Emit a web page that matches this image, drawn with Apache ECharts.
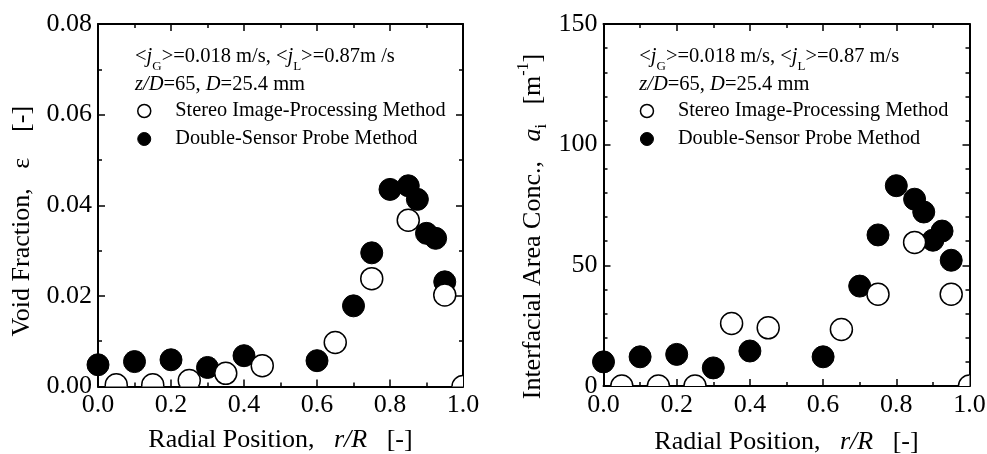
<!DOCTYPE html>
<html>
<head>
<meta charset="utf-8">
<script src="https://cdn.jsdelivr.net/npm/echarts@6/dist/echarts.min.js"></script>
<style>
  html, body { margin: 0; padding: 0; background: #fff; }
  #chart { width: 987px; height: 454px; }
</style>
</head>
<body>
<div id="chart"></div>
<script>
// Radial measurement positions r/R
const radialProbe  = [0.0, 0.1, 0.2, 0.3, 0.4, 0.6, 0.7, 0.75, 0.8, 0.85, 0.875, 0.9, 0.925, 0.95];
const radialStereo = [0.05, 0.15, 0.25, 0.35, 0.45, 0.65, 0.75, 0.85, 0.95, 1.0];

// Void fraction, epsilon [-]
const voidProbe  = [0.0048, 0.0055, 0.0059, 0.0042, 0.0068, 0.0057, 0.0178, 0.0295, 0.0435, 0.0443, 0.0413, 0.0338, 0.0327, 0.0231];
const voidStereo = [0.0004, 0.0004, 0.0013, 0.0029, 0.0046, 0.0097, 0.0238, 0.0367, 0.0202, 0.0];

// Interfacial area concentration, a_i [1/m]
const areaProbe  = [10.0, 12.1, 13.1, 7.5, 14.5, 12.1, 41.4, 62.6, 83.0, 77.4, 72.1, 60.4, 64.2, 52.1];
const areaStereo = [0.0, 0.0, 0.0, 25.9, 24.1, 23.4, 38.0, 59.5, 38.0, 0.0];

// Axis scales
const radialRange = { min: 0, max: 1, interval: 0.2 };
const voidRange   = { min: 0, max: 0.08, interval: 0.02 };
const areaRange   = { min: 0, max: 150, interval: 50 };

const STEREO = 'Stereo Image-Processing Method';
const PROBE  = 'Double-Sensor Probe Method';

const FONT = "'Liberation Serif', 'Times New Roman', serif";
const BLACK = '#000';
const TICK_FONT = 26;

function zip(xs, ys) { return xs.map((x, i) => [x, ys[i]]); }

// Circle markers, clipped at the right and bottom frame edges
function circleRenderer(filled) {
  return function (params, api) {
    const p = api.coord([api.value(0), api.value(1)]);
    const cs = params.coordSys;
    return {
      type: 'circle',
      shape: { cx: p[0], cy: p[1], r: 11 },
      style: filled
        ? { fill: BLACK, stroke: BLACK, lineWidth: 1 }
        : { fill: '#fff', stroke: BLACK, lineWidth: 1.5 },
      clipPath: {
        type: 'rect',
        shape: { x: cs.x - 40, y: cs.y - 40, width: cs.width + 40, height: cs.height + 40 }
      }
    };
  };
}

function sharedAxis(extra) {
  return Object.assign({
    type: 'value',
    axisLine: { show: true, onZero: false, lineStyle: { color: BLACK, width: 2 } },
    axisTick: { show: true, inside: true, length: 7, lineStyle: { color: BLACK, width: 1.5 } },
    minorTick: { show: true, splitNumber: 2, length: 4, lineStyle: { color: BLACK, width: 1.5 } },
    splitLine: { show: false },
    axisLabel: { show: true, color: BLACK, fontFamily: FONT, fontSize: TICK_FONT, margin: 6 }
  }, extra);
}

const nameRich = {
  it:  { fontFamily: FONT, fontSize: 26, fontStyle: 'italic', color: BLACK },
  sub: { fontFamily: FONT, fontSize: 16, color: BLACK, verticalAlign: 'bottom', lineHeight: 16 },
  sup: { fontFamily: FONT, fontSize: 16, color: BLACK, verticalAlign: 'top', lineHeight: 16 }
};

function nameStyle(padding) {
  return { color: BLACK, fontFamily: FONT, fontSize: 26, lineHeight: 34, rich: nameRich, padding: padding };
}

function radialAxis(gridIndex, gap) {
  return [
    sharedAxis(Object.assign({
      gridIndex, position: 'bottom',
      name: 'Radial Position,   {it|r/R}   [-]',
      nameLocation: 'middle', nameGap: gap, nameTextStyle: nameStyle([0, 0, 0, 0]),
      axisLabel: { show: true, color: BLACK, fontFamily: FONT, fontSize: TICK_FONT, margin: 6,
                   formatter: v => v.toFixed(1) }
    }, radialRange)),
    sharedAxis(Object.assign({ gridIndex, position: 'top', axisLabel: { show: false } }, radialRange))
  ];
}

const annotRich = {
  i:   { fontFamily: FONT, fontSize: 20.5, fontStyle: 'italic', fill: BLACK },
  sub: { fontFamily: FONT, fontSize: 13, fill: BLACK, verticalAlign: 'bottom', lineHeight: 13 }
};

function annotation(x, y, text) {
  return {
    type: 'text', x: x, y: y, z: 10,
    style: {
      text: text, fontFamily: FONT, fontSize: 20.5, fill: BLACK,
      lineHeight: 32, verticalAlign: 'middle', align: 'left', rich: annotRich
    }
  };
}

function legendFor(left, top) {
  return {
    left: left, top: top, orient: 'vertical', selectedMode: false,
    itemWidth: 52, itemHeight: 13, itemGap: 8,
    textStyle: { fontFamily: FONT, fontSize: 20.3, color: BLACK, lineHeight: 20 },
    data: [
      { name: STEREO, icon: 'circle', itemStyle: { color: '#fff', borderColor: BLACK, borderWidth: 1.5 } },
      { name: PROBE,  icon: 'circle', itemStyle: { color: BLACK, borderColor: BLACK, borderWidth: 1 } }
    ]
  };
}

const option = {
  animation: false,
  backgroundColor: '#fff',
  grid: [
    { left: 98,  top: 24, width: 365, height: 362.5, containLabel: false, outerBoundsMode: 'none' },
    { left: 603.5, top: 24, width: 366, height: 362, containLabel: false, outerBoundsMode: 'none' }
  ],
  xAxis: [].concat(radialAxis(0, 34), radialAxis(1, 39)),
  yAxis: [
    sharedAxis(Object.assign({
      gridIndex: 0, position: 'left',
      name: 'Void Fraction,   ε    [-]',
      nameLocation: 'middle', nameGap: 59, nameTextStyle: nameStyle([0, 32, 0, 0]),
      axisLabel: { show: true, color: BLACK, fontFamily: FONT, fontSize: TICK_FONT, margin: 6,
                   formatter: v => v.toFixed(2) }
    }, voidRange)),
    sharedAxis(Object.assign({ gridIndex: 0, position: 'right', axisLabel: { show: false } }, voidRange)),
    sharedAxis(Object.assign({
      gridIndex: 1, position: 'left',
      name: 'Interfacial Area Conc.,   {it|a}{sub|i}   [m{sup|-1}]',
      nameLocation: 'middle', nameGap: 53.5, nameTextStyle: nameStyle([0, 43, 0, 0]),
      minorTick: { show: true, splitNumber: 5, length: 4, lineStyle: { color: BLACK, width: 1.5 } },
      axisLabel: { show: true, color: BLACK, fontFamily: FONT, fontSize: TICK_FONT, margin: 6,
                   formatter: v => String(v) }
    }, areaRange)),
    sharedAxis(Object.assign({
      gridIndex: 1, position: 'right', axisLabel: { show: false },
      minorTick: { show: true, splitNumber: 5, length: 4, lineStyle: { color: BLACK, width: 1.5 } }
    }, areaRange))
  ],
  legend: [legendFor(132, 96), legendFor(634.7, 96)],
  graphic: [
    annotation(135, 57, '<{i|j}{sub|G}>=0.018 m/s, <{i|j}{sub|L}>=0.87m /s'),
    annotation(135, 85, '{i|z/D}=65, {i|D}=25.4 mm'),
    annotation(639.3, 57, '<{i|j}{sub|G}>=0.018 m/s, <{i|j}{sub|L}>=0.87 m/s'),
    annotation(639.3, 85, '{i|z/D}=65, {i|D}=25.4 mm')
  ],
  series: [
    { type: 'custom', name: PROBE,  xAxisIndex: 0, yAxisIndex: 0, z: 3,
      itemStyle: { color: BLACK }, data: zip(radialProbe, voidProbe), renderItem: circleRenderer(true) },
    { type: 'custom', name: STEREO, xAxisIndex: 0, yAxisIndex: 0, z: 4,
      itemStyle: { color: '#fff', borderColor: BLACK }, data: zip(radialStereo, voidStereo), renderItem: circleRenderer(false) },
    { type: 'custom', name: PROBE,  xAxisIndex: 2, yAxisIndex: 2, z: 3,
      itemStyle: { color: BLACK }, data: zip(radialProbe, areaProbe), renderItem: circleRenderer(true) },
    { type: 'custom', name: STEREO, xAxisIndex: 2, yAxisIndex: 2, z: 4,
      itemStyle: { color: '#fff', borderColor: BLACK }, data: zip(radialStereo, areaStereo), renderItem: circleRenderer(false) }
  ]
};

const chart = echarts.init(document.getElementById('chart'), null, { renderer: 'canvas' });
chart.setOption(option);
</script>
</body>
</html>
